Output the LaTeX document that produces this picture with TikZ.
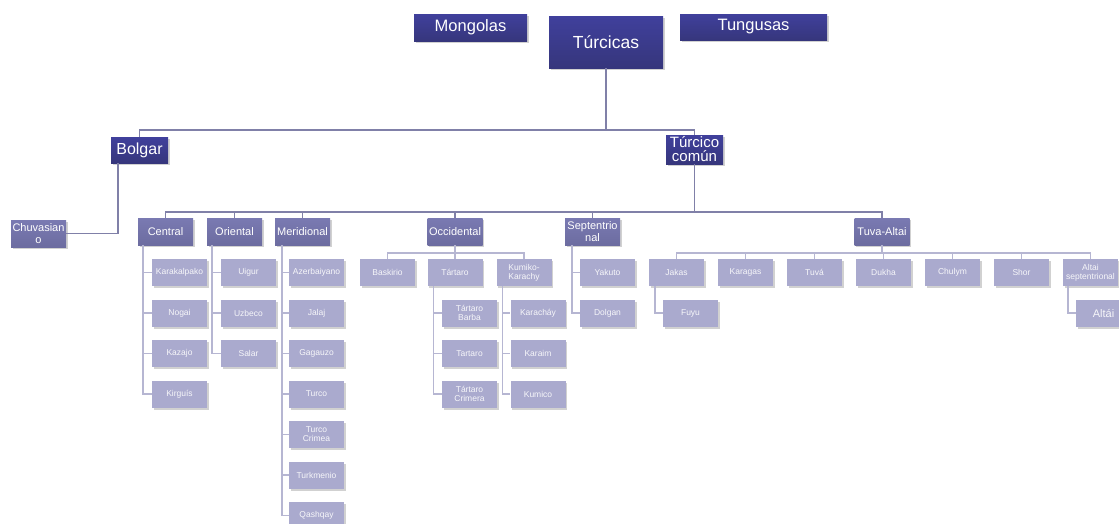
\documentclass[tikz,border=0pt]{standalone}
\usepackage{fontspec}
\setmainfont{Liberation Sans}
\usetikzlibrary{positioning, shadows}

\definecolor{topblue}{RGB}{64,64,156}
\definecolor{topdark}{RGB}{54,54,124}
\definecolor{midpurple}{RGB}{122,122,178}
\definecolor{midpurpledark}{RGB}{108,108,160}
\definecolor{leafpurple}{RGB}{170,170,206}
\definecolor{linedark}{RGB}{128,128,168}
\definecolor{linelight}{RGB}{182,182,210}

\tikzset{
  box/.style={inner sep=0pt, align=center, text=white,
    drop shadow={shadow xshift=1.5pt, shadow yshift=-2pt, opacity=0.18, fill=black}},
  topbox/.style={box, top color=topblue, bottom color=topdark,
    font=\fontsize{16.5}{18}\selectfont},
  groupbox/.style={box, top color=midpurple, bottom color=midpurpledark,
    minimum width=55pt, minimum height=27pt, font=\fontsize{11}{11.5}\selectfont},
  leafbox/.style={box, fill=leafpurple, minimum width=55pt, minimum height=27pt,
    font=\fontsize{8.5}{9}\selectfont, text=white!90!leafpurple},
  link/.style={draw=linedark, line width=1.8pt},
  leaflink/.style={draw=linelight, line width=1.6pt},
}

\begin{document}
\begin{tikzpicture}[x=1pt, y=-1pt]
  \useasboundingbox (0,0) rectangle (1119,523);

  % Families
  \node[topbox, minimum width=113pt, minimum height=27pt] (mongolas) at (470.5,27.5) {Mongolas};
  \node[topbox, minimum width=114pt, minimum height=52pt, font=\fontsize{17.5}{19}\selectfont] (turcicas) at (606,42) {Túrcicas};
  \node[topbox, minimum width=147pt, minimum height=26pt] (tungusas) at (753.5,27) {Tungusas};

  % Level 1
  \node[topbox, minimum width=57pt, minimum height=26pt, font=\fontsize{16}{17}\selectfont] (bolgar) at (139.5,150) {Bolgar};
  \node[topbox, minimum width=57pt, minimum height=29pt, font=\fontsize{15}{14}\selectfont] (tcomun) at (694.5,149.5) {Túrcico\\común};
  \draw[link] (turcicas.south) -- ++(0,62) -| (bolgar.north);
  \draw[link] (turcicas.south) -- ++(0,62) -| (tcomun.north);

  % Bolgar branch
  \node[groupbox] (chuvasiano) at (38.5,233.5) {Chuvasian\\o};
  \draw[link] ([xshift=-21.5pt]bolgar.south) |- (chuvasiano.east);

  % Level 2
  \foreach \nm/\txt/\x in {central/Central/165.5, oriental/Oriental/234.5,
      meridional/Meridional/302.5, occidental/Occidental/455,
      septentrional/{Septentrio\\nal}/592.5, tuvaaltai/Tuva-Altai/882} {
    \node[groupbox] (\nm) at (\x,231.5) {\txt};
    \draw[link] (tcomun.south) -- ++(0,48) -| (\nm.north);
  }

  % Central
  \foreach \nm/\txt [count=\i] in {karakalpako/Karakalpako, nogai/Nogai,
      kazajo/Kazajo, kirguis/Kirguís} {
    \node[leafbox] (\nm) at (179.5,{272.5+40.5*(\i-1)}) {\txt};
    \draw[leaflink] ([xshift=5pt]central.south west) |- (\nm.west);
  }

  % Oriental
  \foreach \nm/\txt [count=\i] in {uigur/Uigur, uzbeco/Uzbeco, salar/Salar} {
    \node[leafbox] (\nm) at (248.5,{272.5+40.5*(\i-1)}) {\txt};
    \draw[leaflink] ([xshift=5pt]oriental.south west) |- (\nm.west);
  }

  % Meridional
  \foreach \nm/\txt [count=\i] in {azerbaiyano/Azerbaiyano, jalaj/Jalaj,
      gagauzo/Gagauzo, turco/Turco, turcocrimea/{Turco\\Crimea},
      turkmenio/Turkmenio, qashqay/Qashqay} {
    \node[leafbox] (\nm) at (316.5,{272.5+40.5*(\i-1)}) {\txt};
    \draw[leaflink] ([xshift=7pt]meridional.south west) |- (\nm.west);
  }

  % Occidental
  \foreach \nm/\txt/\x in {baskirio/Baskirio/387.5, tartaro/Tártaro/455,
      kumiko/{Kumiko-\\Karachy}/524} {
    \node[leafbox] (\nm) at (\x,272.5) {\txt};
    \draw[leaflink] (occidental.south) -- ++(0,8) -| (\nm.north);
  }
  \foreach \nm/\txt [count=\i] in {tbarba/{Tártaro\\Barba}, ttartaro/Tartaro,
      tcrimera/{Tártaro\\Crimera}} {
    \node[leafbox] (\nm) at (469.5,{313+40.5*(\i-1)}) {\txt};
    \draw[leaflink] ([xshift=6pt]tartaro.south west) |- (\nm.west);
  }
  \foreach \nm/\txt [count=\i] in {karachay/Karacháy, karaim/Karaim, kumico/Kumico} {
    \node[leafbox] (\nm) at (538,{313+40.5*(\i-1)}) {\txt};
    \draw[leaflink] ([xshift=6pt]kumiko.south west) |- (\nm.west);
  }

  % Septentrional
  \foreach \nm/\txt [count=\i] in {yakuto/Yakuto, dolgan/Dolgan} {
    \node[leafbox] (\nm) at (607.5,{272.5+40.5*(\i-1)}) {\txt};
    \draw[leaflink] ([xshift=7pt]septentrional.south west) |- (\nm.west);
  }

  % Tuva-Altai
  \foreach \nm/\txt [count=\i] in {jakas/Jakas, karagas/Karagas, tuva/Tuvá,
      dukha/Dukha, chulym/Chulym, shor/Shor, altaisep/{Altai\\septentrional}} {
    \node[leafbox] (\nm) at ({676.5+69*(\i-1)},272.5) {\txt};
    \draw[leaflink] (tuvaaltai.south) -- ++(0,8) -| (\nm.north);
  }
  \node[leafbox] (fuyu) at (690.5,313) {Fuyu};
  \draw[leaflink] ([xshift=6pt]jakas.south west) |- (fuyu.west);
  \node[leafbox, font=\fontsize{11}{12}\selectfont] (altai) at (1103.5,313) {Altái};
  \draw[leaflink] ([xshift=5pt]altaisep.south west) |- (altai.west);
\end{tikzpicture}
\end{document}
